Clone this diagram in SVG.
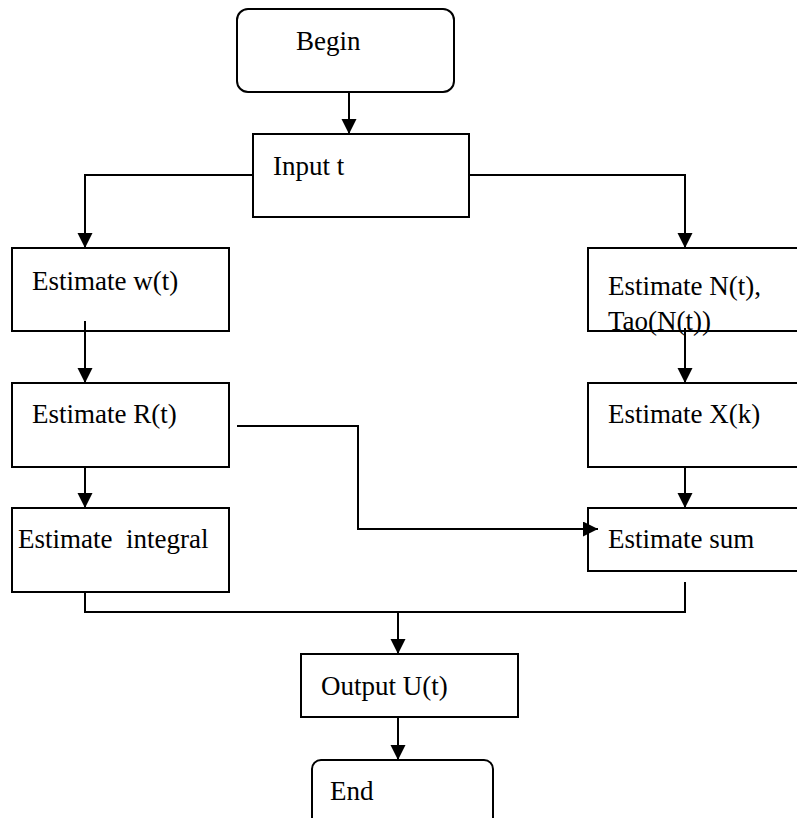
<svg xmlns="http://www.w3.org/2000/svg" width="797" height="818" viewBox="0 0 797 818">
<style>
.box{fill:#fff;stroke:#000;stroke-width:2}
.t{font-family:"Liberation Serif","Times New Roman",serif;font-size:27px;fill:#000;white-space:pre}
.c{fill:none;stroke:#000;stroke-width:2}
</style>
<defs>
<marker id="ah" markerUnits="userSpaceOnUse" markerWidth="16" markerHeight="16" refX="15" refY="7.5" orient="auto">
<path d="M0,0 L15,7.5 L0,15 z" fill="#000"/>
</marker>
</defs>
<rect width="797" height="818" fill="#fff"/>
<g id="begin"><rect class="box" x="237" y="9" width="217" height="83" rx="11"/><text class="t" x="296" y="50">Begin</text></g>
<g id="input"><rect class="box" x="253" y="134" width="216" height="83"/><text class="t" x="273" y="175">Input t</text></g>
<g id="w"><rect class="box" x="12" y="248" width="217" height="83"/><text class="t" x="32" y="290">Estimate w(t)</text></g>
<g id="r"><rect class="box" x="12" y="383" width="217" height="84"/><text class="t" x="32" y="423">Estimate R(t)</text></g>
<g id="integral"><rect class="box" x="12" y="508" width="217" height="84"/><text class="t" x="18" y="548">Estimate  integral</text></g>
<g id="n"><rect class="box" x="588" y="248" width="217" height="83"/><text class="t" x="608" y="295">Estimate N(t),</text><text class="t" x="608" y="330">Tao(N(t))</text></g>
<g id="x"><rect class="box" x="588" y="383" width="217" height="84"/><text class="t" x="608" y="423">Estimate X(k)</text></g>
<g id="sum"><rect class="box" x="588" y="508" width="217" height="63"/><text class="t" x="608" y="548">Estimate sum</text></g>
<g id="output"><rect class="box" x="301" y="654" width="217" height="63"/><text class="t" x="321" y="695">Output U(t)</text></g>
<g id="end"><rect class="box" x="312" y="760" width="181" height="70" rx="9"/><text class="t" x="330" y="800">End</text></g>
<g id="connectors">
<path class="c" d="M349,92 V134" marker-end="url(#ah)"/>
<path class="c" d="M253,175 H85 V248" marker-end="url(#ah)"/>
<path class="c" d="M469,175 H685 V248" marker-end="url(#ah)"/>
<path class="c" d="M85,321 V383" marker-end="url(#ah)"/>
<path class="c" d="M85,467 V508" marker-end="url(#ah)"/>
<path class="c" d="M685,328 V383" marker-end="url(#ah)"/>
<path class="c" d="M685,467 V508" marker-end="url(#ah)"/>
<path class="c" d="M237,426 H358 V529 H598" marker-end="url(#ah)"/>
<path class="c" d="M85,592 V612 H685 V582"/>
<path class="c" d="M398,612 V654" marker-end="url(#ah)"/>
<path class="c" d="M398,717 V760" marker-end="url(#ah)"/>
</g>
</svg>
